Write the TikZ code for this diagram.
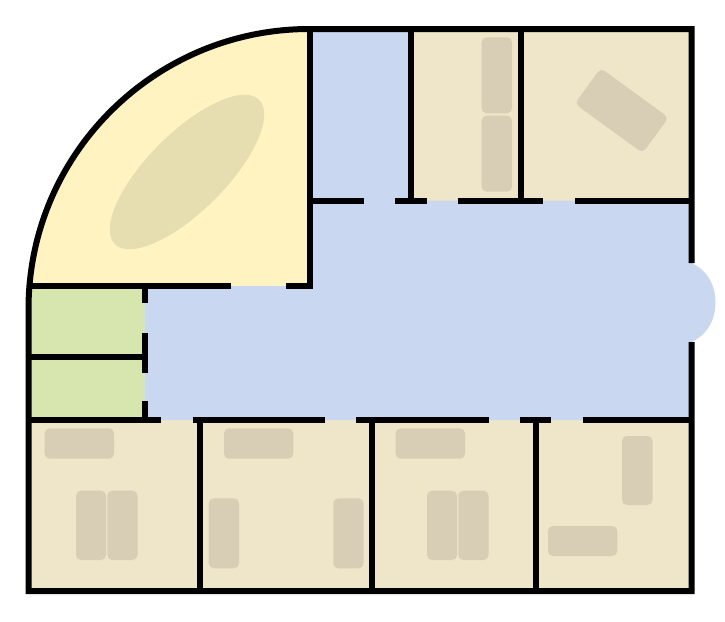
\documentclass[tikz,border=0pt]{standalone}
\tikzset{
	wall/.style={line width=6pt, line join=miter},
	hall/.style={fill={rgb,255:red,201;green,216;blue,240}},
	office/.style={fill={rgb,255:red,239;green,229;blue,200}},
	lounge/.style={fill={rgb,255:red,255;green,243;blue,194}},
	closet/.style={fill={rgb,255:red,215;green,230;blue,174}},
	furniture/.style={fill={rgb,255:red,215;green,206;blue,181}, rounded corners=5pt},
	bigtable/.style={fill={rgb,255:red,230;green,221;blue,176}}
}
\begin{document}
\begin{tikzpicture}[x=1pt,y=-1pt]
	\useasboundingbox (0,0) rectangle (725,621);

	\coordinate (arc_l) at (28.5,309);
	\coordinate (arc_t) at (309.5,29);

	% rooms
	\fill [lounge] (arc_l) .. controls (28.5,154.5) and (154.5,29) .. (arc_t) -- (309.5,286) -- (28.5,286) -- cycle;
	\fill [closet] (28.5,286) rectangle (145,420);
	\fill [office] (411,29) rectangle (691.5,200.5);
	\fill [office] (28.5,420) rectangle (691.5,591);
	\fill [hall] (309.5,29) -- (411,29) -- (411,200.5) -- (691.5,200.5) -- (691.5,263)
		.. controls (707,270) and (715.5,285) .. (715.5,302.5) .. controls (715.5,320) and (707,335) .. (691.5,342)
		-- (691.5,420) -- (145,420) -- (145,286) -- (309.5,286) -- cycle;

	% furniture
	\fill [bigtable, rotate around={45:(187,172)}] (187,172) ellipse [x radius=102, y radius=39];
	\fill [furniture] (481.7,37.3) rectangle (512,113.3);
	\fill [furniture] (481.7,115.7) rectangle (512,191.7);
	\fill [furniture, rotate around={-36:(621.7,110.6)}] (579.7,88.6) rectangle (663.7,132.6);
	\fill [furniture] (44.7,428.3) rectangle (114,458.7);
	\fill [furniture] (76,490.7) rectangle (106,560);
	\fill [furniture] (107.3,490.7) rectangle (137.5,560);
	\fill [furniture] (224,428.3) rectangle (293.3,458.7);
	\fill [furniture] (208.7,498.3) rectangle (239,568.3);
	\fill [furniture] (333.3,498.3) rectangle (363.7,568.3);
	\fill [furniture] (395.7,428.3) rectangle (465,458.7);
	\fill [furniture] (427,490.7) rectangle (457,560);
	\fill [furniture] (458.3,490.7) rectangle (488.5,560);
	\fill [furniture] (622,436) rectangle (652.5,505);
	\fill [furniture] (548,526) rectangle (617.3,556);

	% outer walls
	\draw [wall] (691.5,342) -- (691.5,591) -- (28.5,591) -- (arc_l)
		.. controls (28.5,154.5) and (154.5,29) .. (arc_t) -- (691.5,29) -- (691.5,263);

	% inner walls
	\draw [wall] (arc_t) -- (309.5,286) -- (286,286);
	\draw [wall] (231,286) -- (28.5,286);
	\draw [wall] (411,29) -- (411,200.5);
	\draw [wall] (520.5,29) -- (520.5,200.5);
	\draw [wall] (309.5,200.5) -- (364,200.5);
	\draw [wall] (395,200.5) -- (426.7,200.5);
	\draw [wall] (457.7,200.5) -- (543,200.5);
	\draw [wall] (574.7,200.5) -- (691.5,200.5);
	\draw [wall] (145.3,286) -- (145.3,303);
	\draw [wall] (145.3,333) -- (145.3,372.7);
	\draw [wall] (145.3,401) -- (145.3,420);
	\draw [wall] (28.5,357) -- (145.3,357);
	\draw [wall] (28.5,420) -- (161,420);
	\draw [wall] (192.5,420) -- (325,420);
	\draw [wall] (356,420) -- (489,420);
	\draw [wall] (520,420) -- (551.3,420);
	\draw [wall] (582.7,420) -- (691.5,420);
	\draw [wall] (200.3,420) -- (200.3,591);
	\draw [wall] (372,420) -- (372,591);
	\draw [wall] (535.7,420) -- (535.7,591);
\end{tikzpicture}
\end{document}
